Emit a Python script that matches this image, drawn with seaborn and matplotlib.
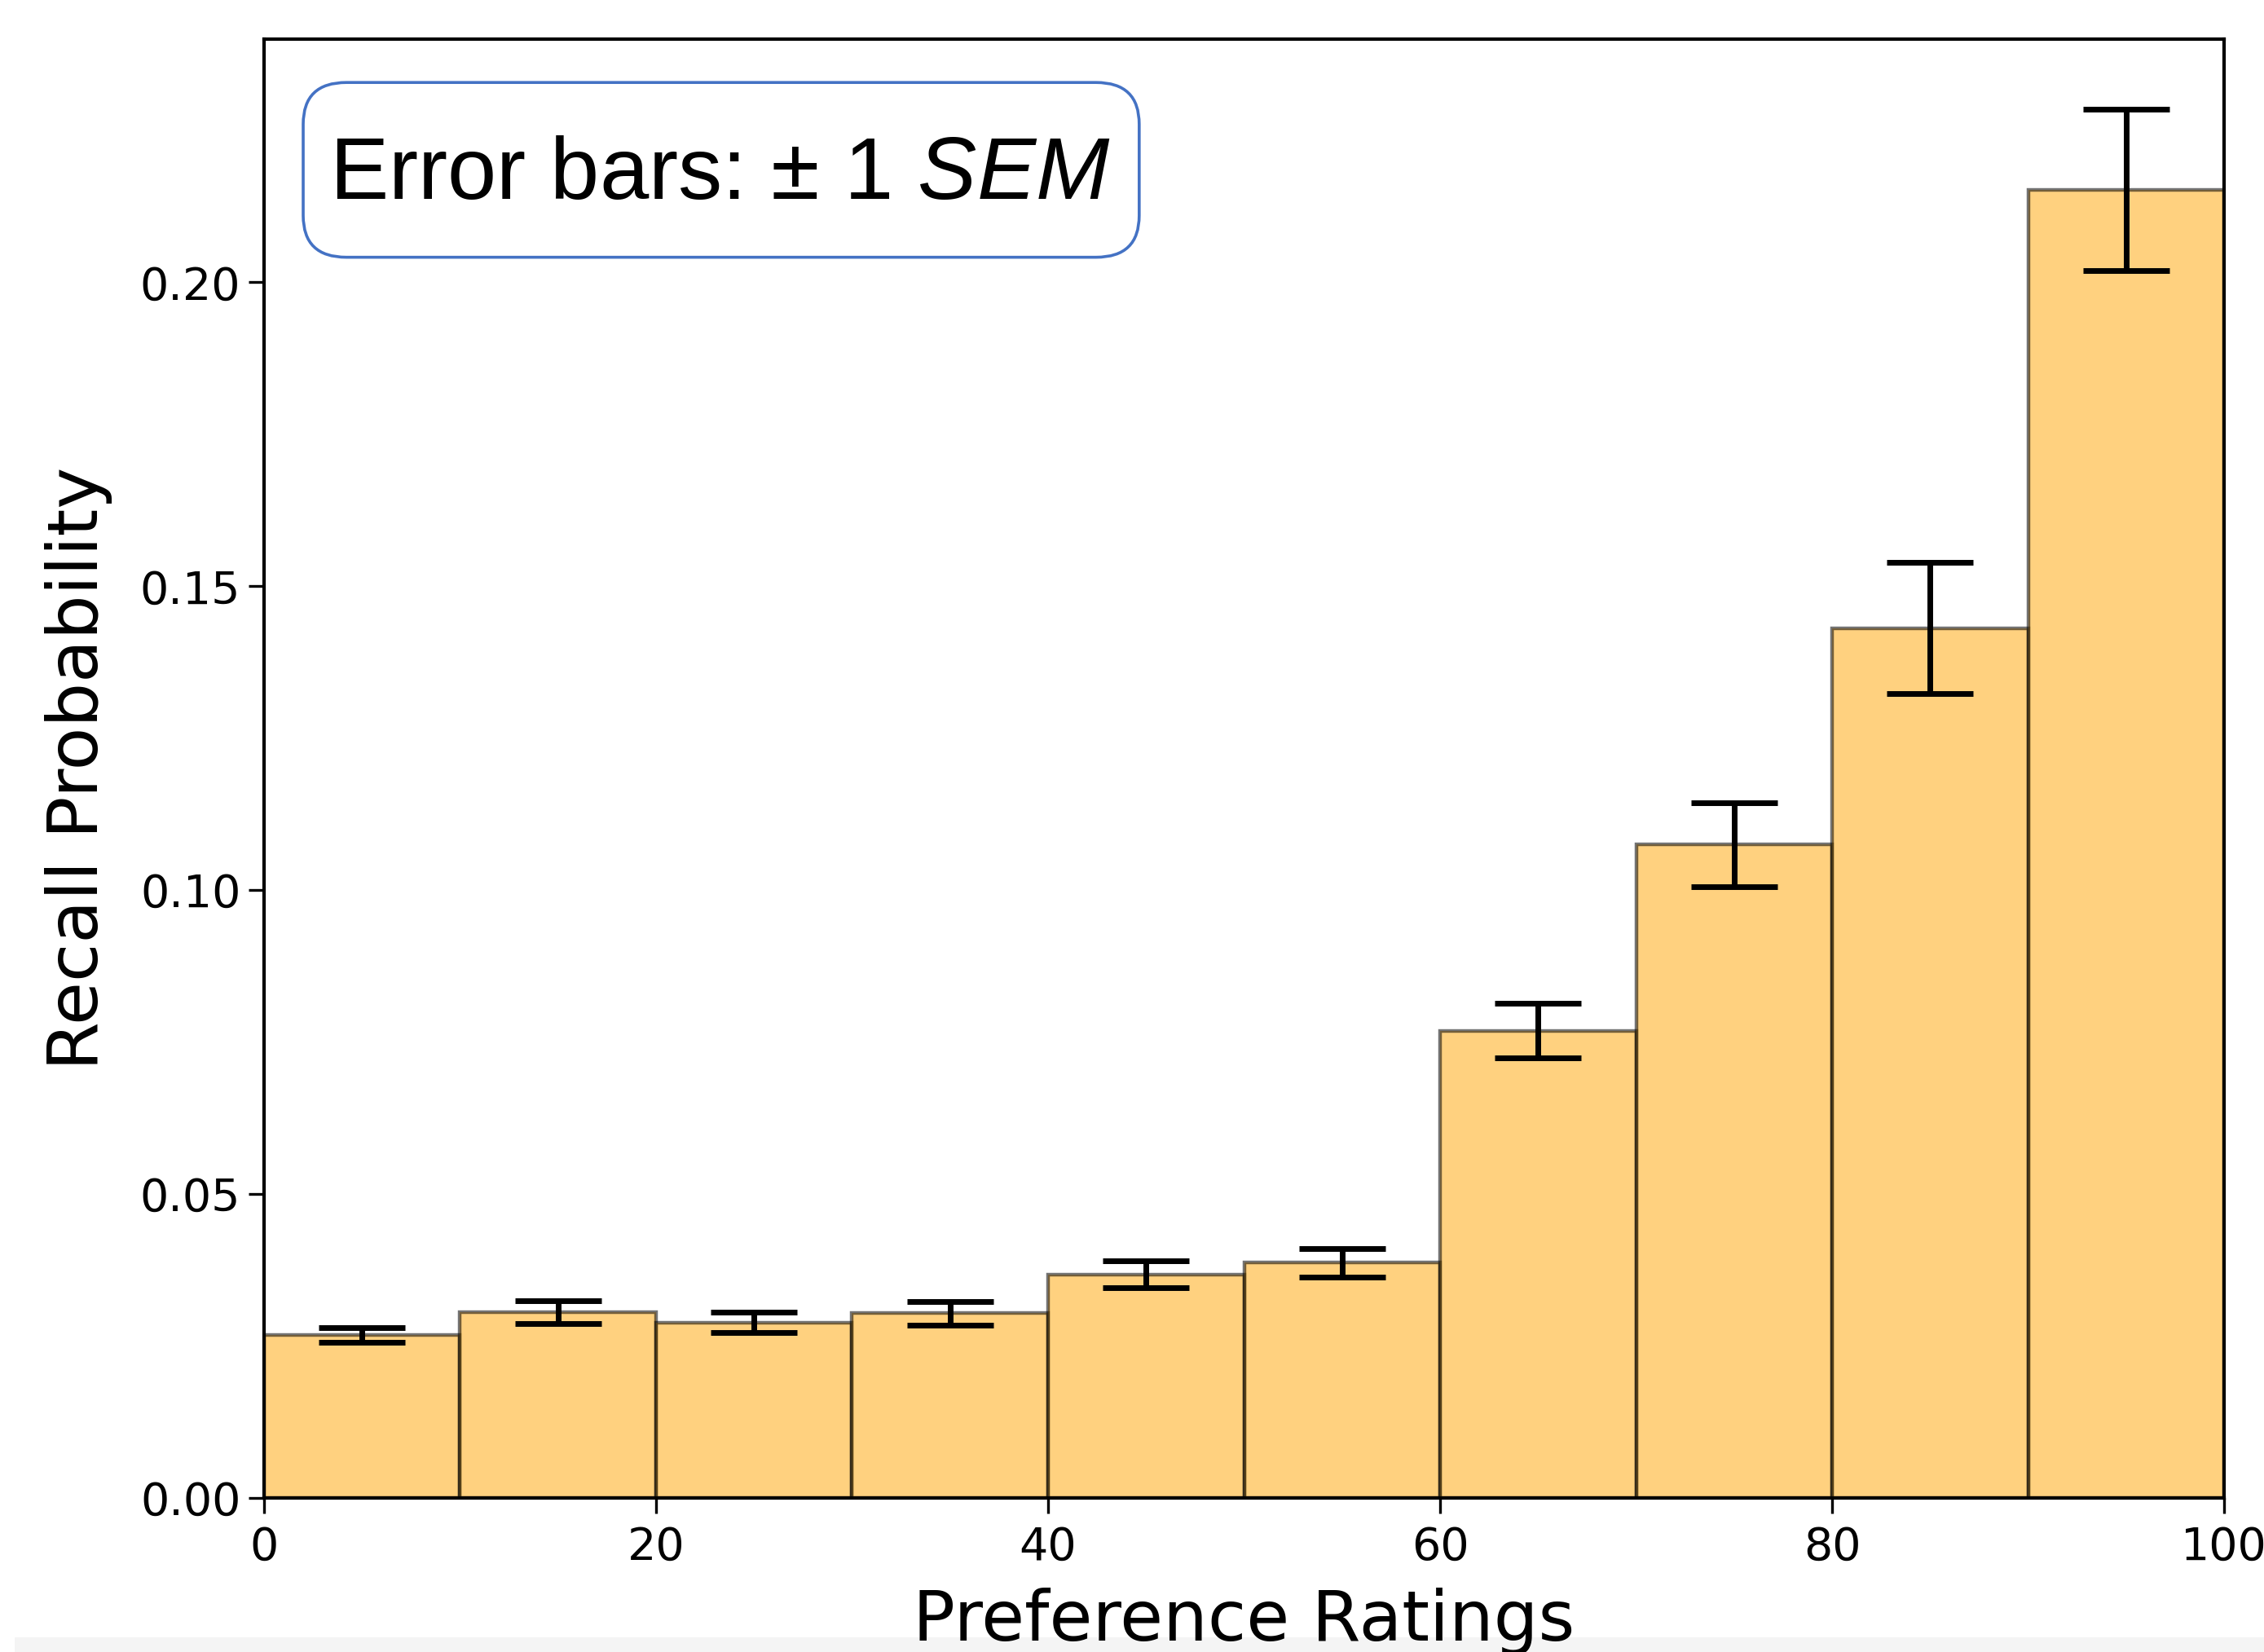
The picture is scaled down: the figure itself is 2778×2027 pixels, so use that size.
import matplotlib
matplotlib.use("Agg")
import matplotlib.pyplot as plt
from matplotlib.patches import FancyBboxPatch, Rectangle
import seaborn as sns
import numpy as np

# Données
bin_edges = [0, 10, 20, 30, 40, 50, 60, 70, 80, 90, 100]
recall_prob = [0.0268, 0.0306, 0.0289, 0.0304, 0.0368, 0.0387, 0.0769, 0.1075, 0.1431, 0.2152]
sem = [0.0012, 0.0019, 0.0017, 0.0019, 0.0022, 0.0023, 0.0045, 0.0069, 0.0108, 0.0133]
x_ticks = [0, 20, 40, 60, 80, 100]
y_ticks = [0.00, 0.05, 0.10, 0.15, 0.20]

plt.rcParams['font.family'] = ['DejaVu Sans']
plt.rcParams['mathtext.fontset'] = 'custom'
plt.rcParams['mathtext.rm'] = 'Liberation Sans'
plt.rcParams['mathtext.it'] = 'Liberation Sans:italic'

centers = [(a + b) / 2 for a, b in zip(bin_edges[:-1], bin_edges[1:])]

fig = plt.figure(figsize=(13.89, 10.135), dpi=200)
ax = fig.add_axes([0.1166, 0.0932, 0.8658, 0.8831])

sns.histplot(x=centers, weights=recall_prob, bins=bin_edges, color='orange',
             alpha=0.5, edgecolor=(0, 0, 0, 0.55), linewidth=1.6, ax=ax)

ax.errorbar(centers, recall_prob, yerr=sem, fmt='none', ecolor='black',
            elinewidth=2.5, capsize=19, capthick=2.5, zorder=5)

ax.set_xlim(0, 100)
ax.set_ylim(0, 0.24)
ax.set_xticks(x_ticks)
ax.set_yticks(y_ticks)
ax.set_yticklabels(['{:.2f}'.format(v) for v in y_ticks])
ax.tick_params(labelsize=20, length=6.8, width=1.2)
ax.tick_params(axis='x', pad=5.5)
for s in ax.spines.values():
    s.set_linewidth(1.5)

ax.set_xlabel('Preference Ratings', fontsize=31, labelpad=8)
ax.set_ylabel('Recall Probability', fontsize=31, labelpad=12)

# Encadré "Error bars"
box = FancyBboxPatch((0.0200, 0.8505), 0.4265, 0.1198, boxstyle='round,pad=0,rounding_size=0.022',
                     transform=ax.transAxes, facecolor='white', edgecolor='#4472C4',
                     linewidth=1.3, zorder=6, mutation_aspect=1.3)
ax.add_patch(box)
ax.text(0.0332, 0.906, r'Error bars: ± 1 $\mathit{SEM}$', transform=ax.transAxes,
        fontsize=39, family='Liberation Sans', va='center', ha='left', zorder=7)

# bande grise en bas
fig.patches.append(Rectangle((0.0065, 0), 0.9935, 0.009, transform=fig.transFigure,
                             facecolor='#f4f4f4', edgecolor='none', zorder=-1))

fig.savefig('out.png', dpi=200)
